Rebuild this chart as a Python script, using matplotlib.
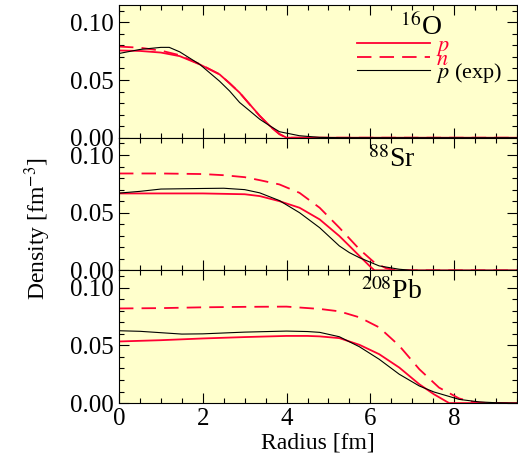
import numpy as np
import matplotlib
matplotlib.use("Agg")
import matplotlib.pyplot as plt
from matplotlib.ticker import MultipleLocator, FormatStrFormatter

plt.rcParams['font.family'] = 'serif'
plt.rcParams['font.serif'] = ['Liberation Serif', 'DejaVu Serif']
plt.rcParams['mathtext.fontset'] = 'stix'

RED = '#ff0033'
BG = '#ffffcc'

# 16O
o_p_r = [0, 0.5, 1.0, 1.45, 1.93, 2.4, 2.64, 2.88, 3.12, 3.36, 3.6, 3.83, 4.0, 9.5]
o_p = [0.0756, 0.0752, 0.0738, 0.0707, 0.0635, 0.0549, 0.0472, 0.0390, 0.0290, 0.0190, 0.0103, 0.0032, 0.0, 0.0]
o_n_r = [0, 0.5, 1.0, 1.45, 1.93, 2.4, 2.64, 2.88, 3.12, 3.36, 3.6, 3.83, 4.0, 9.5]
o_n = [0.0790, 0.0780, 0.0755, 0.0715, 0.0638, 0.0550, 0.0472, 0.0390, 0.0288, 0.0188, 0.0100, 0.0030, 0.0, 0.0]
o_e_r = [0, 0.5, 1.0, 1.2, 1.45, 1.93, 2.4, 2.64, 2.88, 3.12, 3.36, 3.6, 3.83, 4.31, 4.79, 5.3, 9.5]
o_e = [0.0730, 0.0765, 0.0783, 0.0783, 0.0744, 0.0635, 0.0490, 0.0405, 0.0305, 0.0233, 0.0160, 0.0103, 0.0052, 0.0017, 0.0003, 0.0, 0.0]

# 88Sr
sr_p_r = [0, 1, 2, 3, 3.36, 3.83, 4.31, 4.79, 5.26, 5.5, 5.74, 5.98, 6.1, 9.5]
sr_p = [0.0667, 0.0667, 0.0667, 0.0660, 0.0644, 0.0600, 0.0543, 0.0442, 0.0298, 0.0212, 0.0125, 0.0039, 0.0, 0.0]
sr_n_r = [0, 1, 2, 2.5, 3.0, 3.36, 3.83, 4.31, 4.79, 5.26, 5.74, 6.1, 6.37, 6.61, 9.5]
sr_n = [0.0840, 0.0840, 0.0835, 0.0825, 0.0808, 0.0782, 0.0745, 0.0672, 0.0543, 0.0370, 0.0183, 0.0067, 0.0020, 0.0, 0.0]
sr_e_r = [0, 0.5, 1, 2, 2.5, 3.0, 3.36, 3.83, 4.31, 4.79, 5.26, 5.5, 5.74, 6.21, 6.69, 7.0, 9.5]
sr_e = [0.0670, 0.0685, 0.0705, 0.0710, 0.0712, 0.0700, 0.0672, 0.0605, 0.0500, 0.0370, 0.0212, 0.0154, 0.0110, 0.0039, 0.0010, 0.0, 0.0]

# 208Pb
pb_p_r = [0, 1, 2, 3, 4, 4.5, 4.79, 5.26, 5.74, 6.21, 6.69, 7.17, 7.52, 7.88, 9.5]
pb_p = [0.0534, 0.0545, 0.0560, 0.0572, 0.0582, 0.0582, 0.0578, 0.0563, 0.0505, 0.0424, 0.0308, 0.0163, 0.0076, 0.0, 0.0]
pb_n_r = [0, 1, 2, 3, 4, 4.79, 5.26, 5.74, 6.21, 6.69, 7.17, 7.64, 8.12, 8.44, 8.8, 9.5]
pb_n = [0.0820, 0.0823, 0.0830, 0.0834, 0.0836, 0.0816, 0.0795, 0.0743, 0.0656, 0.0497, 0.0293, 0.0134, 0.0040, 0.0010, 0.0, 0.0]
pb_e_r = [0, 0.5, 1.0, 1.5, 2.0, 3.0, 4.0, 4.5, 4.79, 5.26, 5.74, 6.21, 6.69, 7.17, 7.52, 8.12, 8.6, 9.0, 9.5]
pb_e = [0.0627, 0.0622, 0.0610, 0.0598, 0.0600, 0.0615, 0.0624, 0.0620, 0.0613, 0.0575, 0.0488, 0.0380, 0.0250, 0.0148, 0.0096, 0.0032, 0.0010, 0.0003, 0.0]

panels = [
    (r'$^{16}$O', o_p_r, o_p, o_n_r, o_n, o_e_r, o_e, 7.2),
    (r'$^{88}$Sr', sr_p_r, sr_p, sr_n_r, sr_n, sr_e_r, sr_e, 6.52),
    (r'$^{208}$Pb', pb_p_r, pb_p, pb_n_r, pb_n, pb_e_r, pb_e, 6.5),
]

fig, axes = plt.subplots(3, 1, figsize=(5.18, 4.57), dpi=100, sharex=True)
fig.subplots_adjust(left=0.2297, right=0.998, top=0.989, bottom=0.118, hspace=0)

for i, (name, pr, p, nr, n, er, e, lx) in enumerate(panels):
    ax = axes[i]
    ax.set_facecolor(BG)
    lp, = ax.plot(pr, p, color=RED, lw=1.3)
    ln, = ax.plot(nr, n, color=RED, lw=1.3, dashes=(8, 4.5))
    le, = ax.plot(er, e, color='black', lw=0.8)
    ax.set_xlim(0, 9.5)
    ax.set_ylim(0, 0.115)
    ax.xaxis.set_major_locator(MultipleLocator(2))
    ax.xaxis.set_minor_locator(MultipleLocator(0.5))
    ax.yaxis.set_major_locator(MultipleLocator(0.05))
    ax.yaxis.set_minor_locator(MultipleLocator(0.01))
    ax.yaxis.set_major_formatter(FormatStrFormatter('%.2f'))
    ax.tick_params(which='both', direction='in', top=True, right=True, labelsize=18)
    ax.tick_params(which='major', length=7, width=0.8)
    ax.tick_params(which='minor', length=3.5, width=0.8)
    ax.text(lx, 0.108, name, fontsize=20, ha='center', va='top')
    if i == 0:
        leg = ax.legend([lp, ln, le], [r'$p$', r'$n$', r'$p$ (exp)'],
                        loc='upper left', bbox_to_anchor=(0.599, 0.772),
                        frameon=False, fontsize=16, handlelength=3.25,
                        handletextpad=0.27, labelspacing=-0.39, borderpad=0,
                        borderaxespad=0)
        leg.get_texts()[0].set_color(RED)
        leg.get_texts()[1].set_color(RED)

axes[-1].set_xlabel('Radius [fm]', fontsize=17, labelpad=2)
fig.text(0.073, 0.5, r'Density [fm$^{-3}$]', rotation=90, fontsize=17,
         ha='center', va='center')

fig.savefig('out.png', dpi=100)
